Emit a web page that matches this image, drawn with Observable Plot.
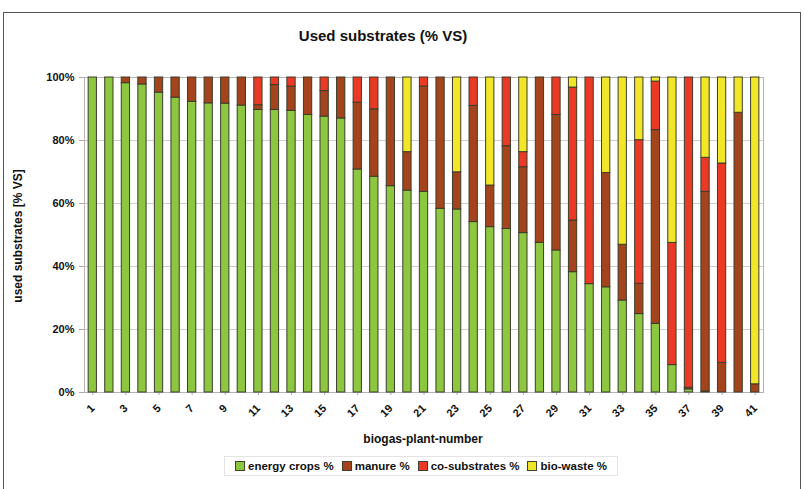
<!DOCTYPE html>
<html>
<head>
<meta charset="utf-8">
<script src="https://cdn.jsdelivr.net/npm/d3@7"></script>
<script src="https://cdn.jsdelivr.net/npm/@observablehq/plot@0.6"></script>
<style>
  body { margin: 0; background: #fff; }
  #wrap { position: relative; width: 805px; height: 489px; overflow: hidden; background: #fff;
          font-family: "Liberation Sans", Arial, sans-serif; font-weight: bold; color: #111; }
  #outer { position: absolute; left: 3px; top: 12px; width: 798px; height: 500px; border: 1.5px solid #555; box-sizing: border-box; }
  #chart { position: absolute; left: 0; top: 0; }
  .abs { position: absolute; white-space: nowrap; }
  #title { top: 27px; left: 0; width: 766px; text-align: center; font-size: 15px; }
  #ylab { left: 18px; top: 236px; transform: translate(-50%, -50%) rotate(-90deg); font-size: 12px; }
  #xlab { left: 423px; top: 439px; transform: translate(-50%, -50%); font-size: 12px; }
  #legend { left: 421px; top: 466px; transform: translate(-50%, -50%); font-size: 11.5px; display: flex; gap: 8px;
            border: 1px solid #e4e4e4; padding: 3px 10px; }
  .item { display: flex; align-items: center; gap: 3px; }
  .sw { width: 8px; height: 8px; border: 1px solid #404030; }
</style>
</head>
<body>
<div id="wrap">
  <div id="outer"></div>
  <div id="chart"></div>
  <div id="title" class="abs">Used substrates (% VS)</div>
  <div id="ylab" class="abs">used substrates [% VS]</div>
  <div id="xlab" class="abs">biogas-plant-number</div>
  <div id="legend" class="abs"></div>
</div>
<script>
const plants = [1,2,3,4,5,6,7,8,9,10,11,12,13,14,15,16,17,18,19,20,21,22,23,24,25,26,27,28,29,30,31,32,33,34,35,36,37,38,39,40,41];
const tickLabels = [1,3,5,7,9,11,13,15,17,19,21,23,25,27,29,31,33,35,37,39,41];
const seriesNames = ["energy crops %", "manure %", "co-substrates %", "bio-waste %"];
const seriesColors = ["#8dc63f", "#a3441c", "#ea3a26", "#f2e629"];

const energyCrops = [100,100,98.2,97.8,95.2,93.6,92.3,91.8,91.7,91.1, 89.7,89.7,89.4,88.1,87.6,87.0,70.8,68.5,65.5,64.1, 63.7,58.3,58.1,54.1,52.5,51.9,50.6,47.5,45.1,38.2, 34.4,33.4,29.2,24.9,21.8,8.7,1.0,0.3,0,0, 0];
const manure      = [0,0,1.8,2.2,4.8,6.4,7.7,8.2,8.3,8.9, 1.5,7.9,7.7,11.9,8.1,13.0,21.2,21.4,34.5,12.2, 33.4,41.7,11.8,36.9,13.2,26.3,20.9,52.5,43.0,16.4, 0,36.3,17.7,9.6,61.5,0,0.5,63.4,9.4,88.8, 2.6];
const coSubstrates= [0,0,0,0,0,0,0,0,0,0, 8.8,2.4,2.9,0,4.3,0,8.0,10.1,0,0, 2.9,0,0,9.0,0,21.8,4.8,0,11.9,42.2, 65.6,0,0,45.6,15.4,38.8,98.5,10.8,63.3,0, 0];
const bioWaste    = [0,0,0,0,0,0,0,0,0,0, 0,0,0,0,0,0,0,0,0,23.7, 0,0,30.1,0,34.3,0,23.7,0,0,3.2, 0,30.3,53.1,19.9,1.3,52.5,0,25.5,27.3,11.2, 97.4];
const yTicks = [0,20,40,60,80,100];

const seriesValues = [energyCrops, manure, coSubstrates, bioWaste];
const data = [];
plants.forEach((p, i) => {
  seriesNames.forEach((name, k) => {
    const v = seriesValues[k][i];
    if (v > 0) data.push({plant: p, type: name, value: v});
  });
});

const chart = Plot.plot({
  width: 805,
  height: 489,
  marginLeft: 84,
  marginRight: 42,
  marginTop: 77,
  marginBottom: 97,
  style: {fontFamily: "Liberation Sans, Arial, sans-serif", fontWeight: "bold", fontSize: "11px", color: "#111", background: "transparent"},
  x: {type: "band", domain: plants, paddingInner: 0.5, paddingOuter: 0.25, round: false},
  y: {domain: [0, 100]},
  color: {domain: seriesNames, range: seriesColors},
  marks: [
    Plot.gridY(yTicks, {stroke: "#cfcfcf", strokeOpacity: 1}),
    Plot.frame({stroke: "#b5b5b5"}),
    Plot.axisY({ticks: yTicks, tickFormat: d => d + "%", tickSize: 5, tickPadding: 5, stroke: "#aaa", label: null, fontSize: 11}),
    Plot.axisX({ticks: tickLabels, tickRotate: -45, tickSize: 3, tickPadding: 11, stroke: "#aaa", label: null, fontSize: 11}),
    Plot.barY(data, {x: "plant", y: "value", fill: "type", stroke: "#3c3c2c", strokeWidth: 1, order: seriesNames})
  ]
});
document.getElementById("chart").appendChild(chart);

const legend = document.getElementById("legend");
seriesNames.forEach((n, k) => {
  const it = document.createElement("div");
  it.className = "item";
  const sw = document.createElement("div");
  sw.className = "sw";
  sw.style.background = seriesColors[k];
  const t = document.createElement("span");
  t.textContent = n;
  it.appendChild(sw); it.appendChild(t);
  legend.appendChild(it);
});
</script>
</body>
</html>
